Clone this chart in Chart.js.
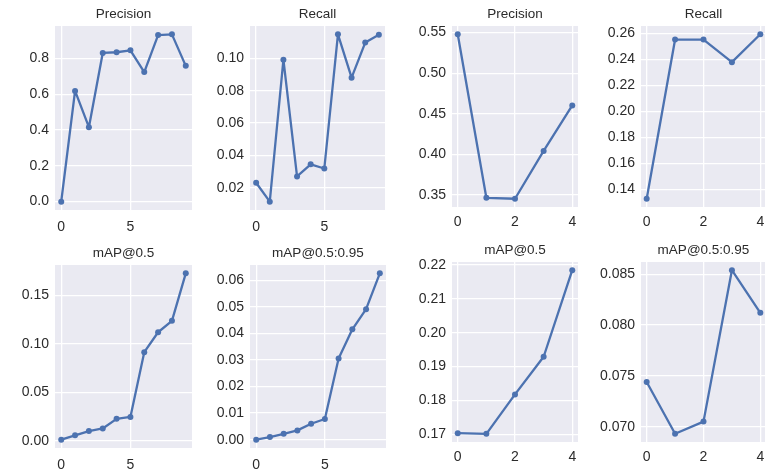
<!DOCTYPE html>
<html>
<head>
<meta charset="utf-8">
<script src="https://cdn.jsdelivr.net/npm/chart.js@4"></script>
<style>
  html, body { margin: 0; padding: 0; background: #fff; overflow: hidden; }
  body { width: 765px; height: 470px; position: relative; }
  canvas { position: absolute; }
</style>
</head>
<body>
<script>
// epochs
const epochsLong = [0, 1, 2, 3, 4, 5, 6, 7, 8, 9];
const epochsShort = [0, 1, 2, 3, 4];

// left run (10 epochs)
const precisionA = [0.0, 0.619, 0.416, 0.831, 0.835, 0.846, 0.724, 0.931, 0.935, 0.759];
const recallA = [0.0231, 0.0114, 0.0992, 0.0270, 0.0345, 0.0319, 0.1149, 0.0881, 0.1098, 0.1147];
const map50A = [0.001, 0.0055, 0.0099, 0.0126, 0.0225, 0.0245, 0.0914, 0.112, 0.1238, 0.1729];
const map5095A = [0.0, 0.001, 0.0022, 0.0035, 0.006, 0.0078, 0.0306, 0.0416, 0.0492, 0.0627];

// right run (5 epochs)
const precisionB = [0.548, 0.3467, 0.3455, 0.4044, 0.4604];
const recallB = [0.1328, 0.2554, 0.2554, 0.238, 0.2595];
const map50B = [0.1704, 0.1702, 0.1818, 0.1929, 0.2184];
const map5095B = [0.0744, 0.0693, 0.0705, 0.0854, 0.0812];

// tick labels
const xTicksLong = ['0', '5'];
const xTicksShort = ['0', '2', '4'];
const yTicksPrecisionA = ['0.0', '0.2', '0.4', '0.6', '0.8'];
const yTicksRecallA = ['0.02', '0.04', '0.06', '0.08', '0.10'];
const yTicksMap50A = ['0.00', '0.05', '0.10', '0.15'];
const yTicksMap5095A = ['0.00', '0.01', '0.02', '0.03', '0.04', '0.05', '0.06'];
const yTicksPrecisionB = ['0.35', '0.40', '0.45', '0.50', '0.55'];
const yTicksRecallB = ['0.14', '0.16', '0.18', '0.20', '0.22', '0.24', '0.26'];
const yTicksMap50B = ['0.17', '0.18', '0.19', '0.20', '0.21', '0.22'];
const yTicksMap5095B = ['0.070', '0.075', '0.080', '0.085'];

// plot area boxes: left, top, right, bottom; xPad = gap under plot to x labels
const panels = [
  { title: 'Precision', x: epochsLong, y: precisionA, xt: xTicksLong, yt: yTicksPrecisionA, box: [55, 26, 192, 209.5], xPad: 9 },
  { title: 'Recall', x: epochsLong, y: recallA, xt: xTicksLong, yt: yTicksRecallA, box: [250, 26, 385, 209.5], xPad: 9 },
  { title: 'Precision', x: epochsShort, y: precisionB, xt: xTicksShort, yt: yTicksPrecisionB, box: [452, 26, 578, 207], xPad: 7 },
  { title: 'Recall', x: epochsShort, y: recallB, xt: xTicksShort, yt: yTicksRecallB, box: [641, 26, 766, 207], xPad: 7 },
  { title: 'mAP@0.5', x: epochsLong, y: map50A, xt: xTicksLong, yt: yTicksMap50A, box: [55, 265, 192, 448], xPad: 9 },
  { title: 'mAP@0.5:0.95', x: epochsLong, y: map5095A, xt: xTicksLong, yt: yTicksMap5095A, box: [250, 265, 386, 448], xPad: 9 },
  { title: 'mAP@0.5', x: epochsShort, y: map50B, xt: xTicksShort, yt: yTicksMap50B, box: [452, 262, 578, 442], xPad: 7 },
  { title: 'mAP@0.5:0.95', x: epochsShort, y: map5095B, xt: xTicksShort, yt: yTicksMap5095B, box: [641, 262, 766, 442], xPad: 7 }
];

const YAXIS_W = 60, XAXIS_H = 30, TITLE_H = 24;
const FAMILY = '"Liberation Sans", Arial, sans-serif';
const TICK_FONT = { family: FAMILY, size: 14 };
const TEXT = '#2b2b2b';
const BLUE = '#4C72B0';

// seaborn style plot background + title centred over the plot area
const panelDeco = {
  id: 'panelDeco',
  beforeDraw(chart, args, opts) {
    const a = chart.chartArea;
    const ctx = chart.ctx;
    ctx.save();
    ctx.fillStyle = '#EAEAF2';
    ctx.fillRect(a.left, a.top, a.right - a.left, a.bottom - a.top);
    ctx.fillStyle = TEXT;
    ctx.font = '13.5px ' + FAMILY;
    ctx.textAlign = 'center';
    ctx.textBaseline = 'middle';
    ctx.fillText(opts.text, (a.left + a.right) / 2, a.top - 12);
    ctx.restore();
  }
};

// matplotlib-like 5% margins
function limits(vals) {
  const lo = Math.min(...vals), hi = Math.max(...vals);
  const m = (hi - lo) * 0.05;
  return [lo - m, hi + m];
}

panels.forEach(p => {
  const [l, t, r, b] = p.box;
  const canvas = document.createElement('canvas');
  const cl = l - YAXIS_W, ct = t - TITLE_H;
  canvas.width = Math.round(r - cl);
  canvas.height = Math.round(b + XAXIS_H - ct);
  canvas.style.left = cl + 'px';
  canvas.style.top = ct + 'px';
  document.body.appendChild(canvas);

  const [xmin, xmax] = limits(p.x);
  const [ymin, ymax] = limits(p.y);

  new Chart(canvas, {
    type: 'line',
    data: {
      datasets: [{
        data: p.x.map((x, i) => ({ x: x, y: p.y[i] })),
        borderColor: BLUE,
        backgroundColor: BLUE,
        borderWidth: 2.3,
        borderJoinStyle: 'round',
        pointRadius: 3,
        pointBorderWidth: 0,
        pointBackgroundColor: BLUE,
        tension: 0,
        clip: false
      }]
    },
    options: {
      responsive: false,
      animation: false,
      layout: { autoPadding: false, padding: { top: TITLE_H, left: 0, right: 0, bottom: 0 } },
      plugins: {
        legend: { display: false },
        tooltip: { enabled: false },
        title: { display: false },
        panelDeco: { text: p.title }
      },
      scales: {
        x: {
          type: 'linear',
          min: xmin,
          max: xmax,
          afterBuildTicks: s => { s.ticks = p.xt.map(v => ({ value: parseFloat(v) })); },
          afterFit: s => { s.height = XAXIS_H; s.paddingLeft = 0; s.paddingRight = 0; },
          ticks: { color: TEXT, font: TICK_FONT, padding: p.xPad, maxRotation: 0, callback: (v, i) => p.xt[i] },
          grid: { color: '#ffffff', lineWidth: 1.3, drawTicks: false },
          border: { display: false }
        },
        y: {
          type: 'linear',
          min: ymin,
          max: ymax,
          afterBuildTicks: s => { s.ticks = p.yt.map(v => ({ value: parseFloat(v) })); },
          afterFit: s => { s.width = YAXIS_W; s.paddingTop = 0; s.paddingBottom = 0; },
          ticks: { color: TEXT, font: TICK_FONT, padding: 6, callback: (v, i) => p.yt[i] },
          grid: { color: '#ffffff', lineWidth: 1.3, drawTicks: false },
          border: { display: false }
        }
      }
    },
    plugins: [panelDeco]
  });
});
</script>
</body>
</html>
